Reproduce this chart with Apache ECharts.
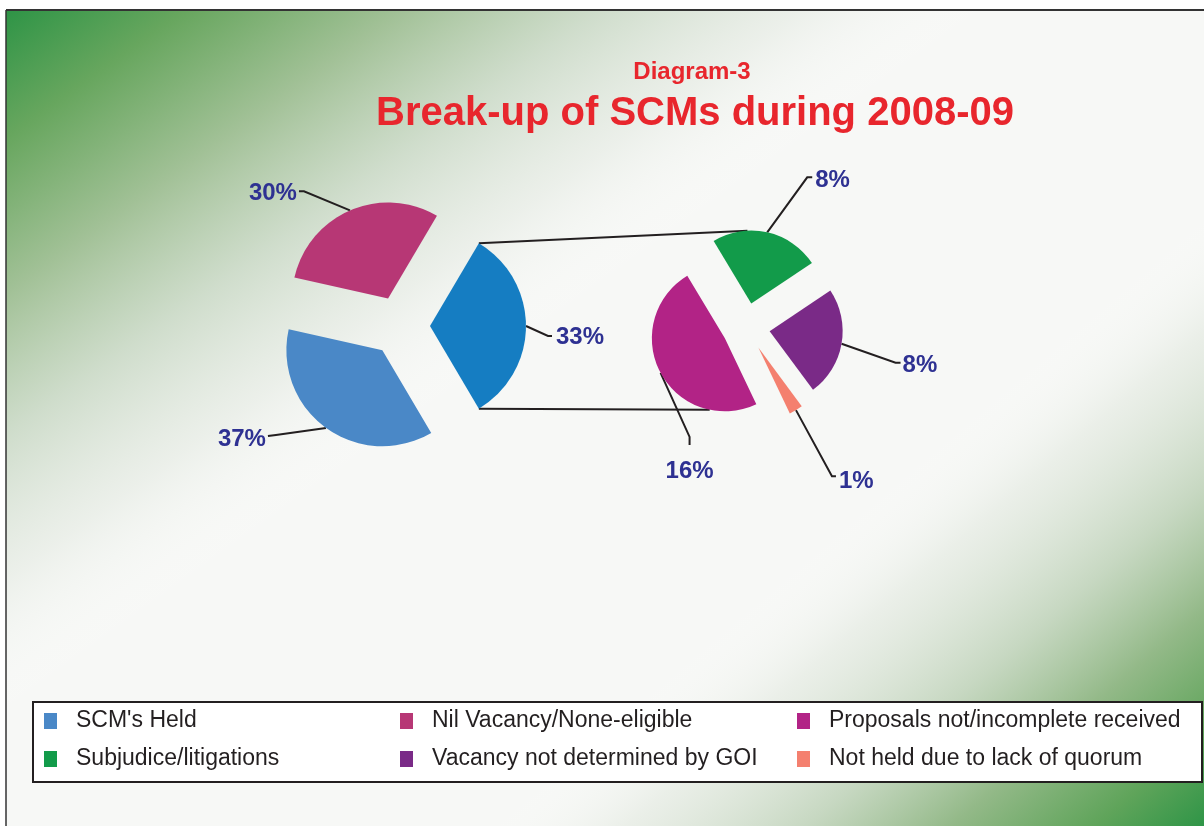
<!DOCTYPE html>
<html>
<head>
<meta charset="utf-8">
<script src="https://cdn.jsdelivr.net/npm/echarts@6/dist/echarts.min.js"></script>
<style>
  html, body { margin: 0; padding: 0; background: #fff; }
  #chart { width: 1204px; height: 826px; }
</style>
</head>
<body>
<div id="chart"></div>
<script>
// main pie: what was held / nil vacancy, the rest is broken up in the second pie
const mainNames = ["SCM's Held", 'Nil Vacancy/None-eligible'];
const mainValues = [37, 30];
// break-up of the remaining share (clockwise from the top)
const subNames = ['Subjudice/litigations', 'Vacancy not determined by GOI', 'Not held due to lack of quorum', 'Proposals not/incomplete received'];
const subValues = [8, 8, 1, 16];
// legend, column by column
const legendCol1 = ["SCM's Held", 'Subjudice/litigations'];
const legendCol2 = ['Nil Vacancy/None-eligible', 'Vacancy not determined by GOI'];
const legendCol3 = ['Proposals not/incomplete received', 'Not held due to lack of quorum'];

const colors = {
  "SCM's Held": '#4a88c7',
  'Nil Vacancy/None-eligible': '#b73775',
  'Others': '#157dc2',
  'Proposals not/incomplete received': '#b22386',
  'Subjudice/litigations': '#129b4a',
  'Vacancy not determined by GOI': '#7a2a87',
  'Not held due to lack of quorum': '#f4806f'
};

const FONT = "'Liberation Sans', Arial, sans-serif";
const LABEL_BLUE = '#2e3192';
const LINE = '#231f20';

// geometry of the two pies
const C1 = [400, 326], R1 = 96, OFF1 = 30;
const C2 = [746, 327], R2 = 73, OFF2 = 24, START2 = 121;

const restValue = subValues.reduce((a, b) => a + b, 0);
const totalMain = mainValues.reduce((a, b) => a + b, 0) + restValue;
// keep the "others" slice centred on the right side
const START1 = restValue / totalMain * 360 / 2;

// leader line + label placement relative to the (exploded) slice's label anchor
// [bendX, bendY, endX, endY, labelX, labelY, align]
const leaders = [
  [[22, 10, 26, 10, 30, 11, 'left'], [-50, 7, -58, 8, -60, 11, 'right'], [-46, -19, -51, -19, -53, -17, 'right']],
  [[40, -55, 45, -55, 48, -52, 'left'], [54, 19, 59, 19, 61, 22, 'left'], [36, 66, 40, 66, 43, 71, 'left'], [29, 64, 29, 72, 29, 98, 'center']]
];

function pieData(names, values) {
  return names.map((n, i) => ({
    name: n, value: values[i], selected: true,
    itemStyle: { color: colors[n] }
  }));
}

const data1 = [{ name: 'Others', value: restValue, selected: true, itemStyle: { color: colors['Others'] } }]
  .concat(pieData(mainNames, mainValues));
const data2 = pieData(subNames, subValues);

// slice angles (degrees, clockwise from start)
function sliceAngles(values, start) {
  const sum = values.reduce((a, b) => a + b, 0);
  let a = start;
  return values.map(v => { const a0 = a; a -= v / sum * 360; return [a0, a]; });
}
function pt(c, r, deg) {
  const t = deg * Math.PI / 180;
  return [c[0] + r * Math.cos(t), c[1] - r * Math.sin(t)];
}
function mid(ang) { return (ang[0] + ang[1]) / 2; }

const ang1 = sliceAngles(data1.map(d => d.value), START1);
const ang2 = sliceAngles(subValues, START2);
const angs = [ang1, ang2];
const offs = [OFF1, OFF2];
const radii = [R1, R2];
const centers = [C1, C2];

const v1 = pt(C1, OFF1, mid(ang1[0]));
const leftTop = pt(v1, R1, ang1[0][0]);
const leftBottom = pt(v1, R1, ang1[0][1]);
const vTop = pt(C2, OFF2, mid(ang2[0]));
const vBottom = pt(C2, OFF2, mid(ang2[3]));
const rightTop = pt(vTop, R2, 93);
const rightBottom = pt(vBottom, R2, -102);

// labels live on transparent copies of the pies; anchor is moved out with the slice
function labelLayout(params) {
  const k = params.seriesIndex - 2;
  const s = leaders[k] && leaders[k][params.dataIndex];
  if (!s) return {};
  const m = mid(angs[k][params.dataIndex]);
  const p = pt(pt(centers[k], offs[k], m), radii[k], m);
  return {
    x: p[0] + s[4],
    y: p[1] + s[5],
    align: s[6],
    verticalAlign: 'middle',
    labelLinePoints: [p, [p[0] + s[0], p[1] + s[1]], [p[0] + s[2], p[1] + s[3]]]
  };
}

const slices = {
  type: 'pie',
  selectedMode: 'multiple',
  clockwise: true,
  emphasis: { scale: false },
  label: { show: false },
  labelLine: { show: false }
};

const labels = {
  type: 'pie',
  silent: true,
  selectedMode: false,
  avoidLabelOverlap: false,
  clockwise: true,
  itemStyle: { color: 'rgba(0,0,0,0)' },
  emphasis: { disabled: true },
  label: {
    show: true,
    position: 'outside',
    formatter: '{c}%',
    color: LABEL_BLUE,
    fontFamily: FONT,
    fontWeight: 'bold',
    fontSize: 24
  },
  labelLine: { show: true, length: 10, length2: 5, lineStyle: { color: LINE, width: 2 } },
  labelLayout: labelLayout
};

function plain(data) {
  return data.map(d => ({ name: d.name, value: d.value }));
}

const legendCommon = {
  orient: 'vertical',
  top: 709,
  padding: 0,
  itemWidth: 13,
  itemHeight: 16,
  itemGap: 14,
  icon: 'rect',
  selectedMode: false,
  textStyle: { fontFamily: FONT, fontSize: 23, color: LINE, lineHeight: 24, padding: [0, 0, 0, 14] }
};

const chart = echarts.init(document.getElementById('chart'));
chart.setOption({
  animation: false,
  backgroundColor: '#ffffff',
  title: [
    {
      text: 'Diagram-3', left: 687, top: 55, textAlign: 'center',
      textStyle: { fontFamily: FONT, fontWeight: 'bold', fontSize: 24, color: '#e8262d' }
    },
    {
      text: 'Break-up of SCMs during 2008-09', left: 690, top: 89, textAlign: 'center',
      textStyle: { fontFamily: FONT, fontWeight: 'bold', fontSize: 40, color: '#e8262d' }
    }
  ],
  legend: [
    Object.assign({ left: 44, data: legendCol1 }, legendCommon),
    Object.assign({ left: 400, data: legendCol2 }, legendCommon),
    Object.assign({ left: 797, data: legendCol3 }, legendCommon)
  ],
  graphic: [
    { type: 'rect', z2: 0, shape: { x: 6, y: 10, width: 1198, height: 816 }, style: { fill: '#f7f8f6' } },
    {
      type: 'rect', z2: 1, shape: { x: 6, y: 10, width: 1198, height: 816 },
      style: {
        fill: new echarts.graphic.LinearGradient(6, 10, 6 + 0.58 * 580, 10 + 0.81 * 580, [
          { offset: 0, color: '#2e9446' },
          { offset: 0.18, color: '#67a65e' },
          { offset: 0.4, color: '#a2c197' },
          { offset: 0.6, color: 'rgba(200,216,196,0.85)' },
          { offset: 0.8, color: 'rgba(228,234,226,0.6)' },
          { offset: 1, color: 'rgba(255,255,255,0)' }
        ], true)
      }
    },
    {
      type: 'rect', z2: 2, shape: { x: 6, y: 10, width: 1198, height: 816 },
      style: {
        fill: new echarts.graphic.LinearGradient(1204, 826, 1204 - 0.65 * 470, 826 - 0.76 * 470, [
          { offset: 0, color: '#2f9547' },
          { offset: 0.15, color: '#5fa45a' },
          { offset: 0.35, color: '#93b988' },
          { offset: 0.55, color: 'rgba(190,210,184,0.85)' },
          { offset: 0.8, color: 'rgba(222,230,219,0.5)' },
          { offset: 1, color: 'rgba(255,255,255,0)' }
        ], true)
      }
    },
    { type: 'line', z2: 3, shape: { x1: 6, y1: 10, x2: 1204, y2: 10 }, style: { stroke: '#333', lineWidth: 2 } },
    { type: 'line', z2: 3, shape: { x1: 6, y1: 10, x2: 6, y2: 826 }, style: { stroke: '#333', lineWidth: 1.5 } },
    { type: 'rect', z2: 4, shape: { x: 33, y: 702, width: 1169, height: 80 }, style: { fill: '#ffffff', stroke: LINE, lineWidth: 2 } },
    {
      type: 'line', z2: 5,
      shape: { x1: leftTop[0], y1: leftTop[1], x2: rightTop[0], y2: rightTop[1] },
      style: { stroke: LINE, lineWidth: 2 }
    },
    {
      type: 'line', z2: 5,
      shape: { x1: leftBottom[0], y1: leftBottom[1], x2: rightBottom[0], y2: rightBottom[1] },
      style: { stroke: LINE, lineWidth: 2 }
    }
  ],
  series: [
    Object.assign({}, slices, {
      name: 'Main', center: C1, radius: R1, selectedOffset: OFF1, startAngle: START1, data: data1
    }),
    Object.assign({}, slices, {
      name: 'Break-up', center: C2, radius: R2, selectedOffset: OFF2, startAngle: START2, data: data2
    }),
    Object.assign({}, labels, {
      name: 'Main labels', center: C1, radius: R1, startAngle: START1, data: plain(data1)
    }),
    Object.assign({}, labels, {
      name: 'Break-up labels', center: C2, radius: R2, startAngle: START2, data: plain(data2)
    })
  ]
});
</script>
</body>
</html>
